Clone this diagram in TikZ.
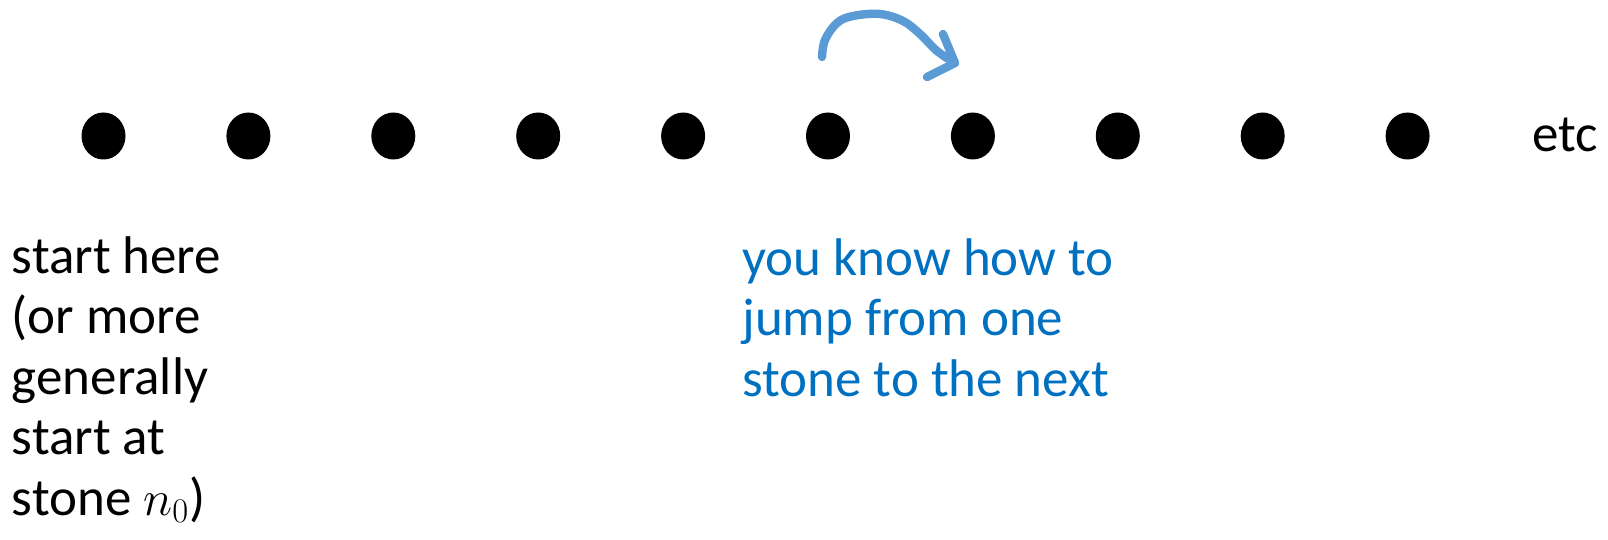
\documentclass[tikz,border=0pt]{standalone}
\usepackage{fontspec}
\setmainfont{Carlito}
\usetikzlibrary{shapes.geometric}
\definecolor{txtblue}{RGB}{0,112,192}
\definecolor{arrblue}{RGB}{91,155,213}
\tikzset{
  stone/.style={ellipse, fill=black, draw=none, minimum width=22pt, minimum height=23.5pt, inner sep=0pt},
  label/.style={anchor=base west, inner sep=0pt, font=\fontsize{26.5}{30.3}\selectfont},
  jump/.style={draw=arrblue, line width=4.2pt, line cap=round, line join=round}
}
\begin{document}
\begin{tikzpicture}[x=0.5pt,y=-0.5pt]
\path[use as bounding box] (0,0) rectangle (1608,540);
\foreach \i in {1,...,10}{
  \node[stone] (s\i) at ({103.5+144.9*(\i-1)},136) {};
}
\node[label] (etc) at (1532,152) {etc};
\node[label] (start) at (11.5,273) {\begin{tabular}[t]{@{}l@{}}start here\\(or more\\generally\\start at\\stone $n_0$)\end{tabular}};
\node[label, text=txtblue] (know) at (742,275) {\begin{tabular}[t]{@{}l@{}}you know how to\\jump from one\\stone to the next\end{tabular}};
\coordinate (j0) at (822,57);
\coordinate (j1) at (825,40);
\coordinate (j2) at (837,23);
\coordinate (j3) at (853,16);
\coordinate (j4) at (880,14);
\coordinate (j5) at (903,21);
\coordinate (j6) at (920,34);
\coordinate (j7) at (937,51);
\coordinate (tip) at (955,63);
\coordinate (b1) at (943,34);
\coordinate (b2) at (927,77);
\draw[jump] plot[smooth, tension=0.6] coordinates {(j0) (j1) (j2) (j3) (j4) (j5) (j6) (j7) (tip)};
\draw[jump] (b1) -- (tip) -- (b2);
\end{tikzpicture}
\end{document}
